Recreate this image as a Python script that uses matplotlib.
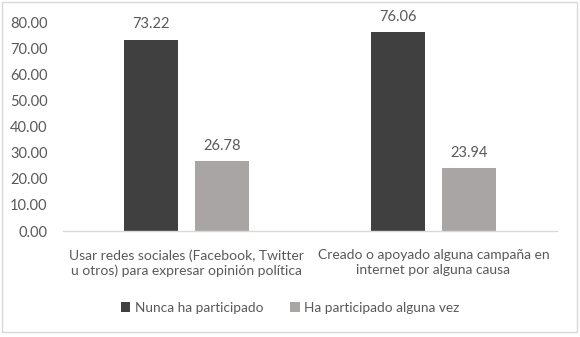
import matplotlib
matplotlib.use("Agg")
import matplotlib.pyplot as plt
from matplotlib.patches import Rectangle
import numpy as np

categories = ["Usar redes sociales (Facebook, Twitter\nu otros) para expresar opinión política",
              "Creado o apoyado alguna campaña en\ninternet por alguna causa"]
series_names = ["Nunca ha participado", "Ha participado alguna vez"]
nunca = [73.22, 76.06]
alguna = [26.78, 23.94]
yticks = [0, 10, 20, 30, 40, 50, 60, 70, 80]

plt.rcParams['font.family'] = ['Lato', 'DejaVu Sans']
txt = "#595959"
c_dark = "#404040"
c_light = "#A9A5A5"

fig = plt.figure(figsize=(5.8, 3.37), dpi=100)
ax = fig.add_axes([0.1086, 0.3145, 0.8517, 0.6202])

x = np.arange(len(categories))
w = 0.22
off = 0.143
b1 = ax.bar(x - off, nunca, w, color=c_dark, label=series_names[0])
b2 = ax.bar(x + off, alguna, w, color=c_light, label=series_names[1])
for bars, vals in ((b1, nunca), (b2, alguna)):
    for r, v in zip(bars, vals):
        ax.text(r.get_x() + r.get_width() / 2, v + 3.2, f"{v:.2f}", ha="center",
                va="bottom", fontsize=10.5, color=txt)

ax.set_xlim(-0.5, 1.5)
ax.set_ylim(0, 80)
ax.set_yticks(yticks)
ax.set_yticklabels([f"{v:.2f}" for v in yticks], fontsize=10.5, color=txt)
ax.set_xticks(x)
ax.set_xticklabels(categories, fontsize=10, color=txt, linespacing=1.25)
ax.tick_params(axis="both", length=0)
ax.tick_params(axis="x", pad=13)
ax.tick_params(axis="y", pad=11)
for s in ("top", "right", "left"):
    ax.spines[s].set_visible(False)
ax.spines["bottom"].set_color("#D9D9D9")
ax.spines["bottom"].set_linewidth(1)

leg = fig.legend(handles=[b1, b2], loc="center", bbox_to_anchor=(0.5, 0.087),
                 ncol=2, frameon=False, fontsize=9.8, handlelength=0.7,
                 handleheight=0.7, handletextpad=0.3, columnspacing=2.0)
for t in leg.get_texts():
    t.set_color(txt)

fig.patches.append(Rectangle((0.004, 0.015), 0.991, 0.978, transform=fig.transFigure,
                             fill=False, edgecolor="#D9D9D9", linewidth=1))

fig.savefig("out.png", dpi=100)
